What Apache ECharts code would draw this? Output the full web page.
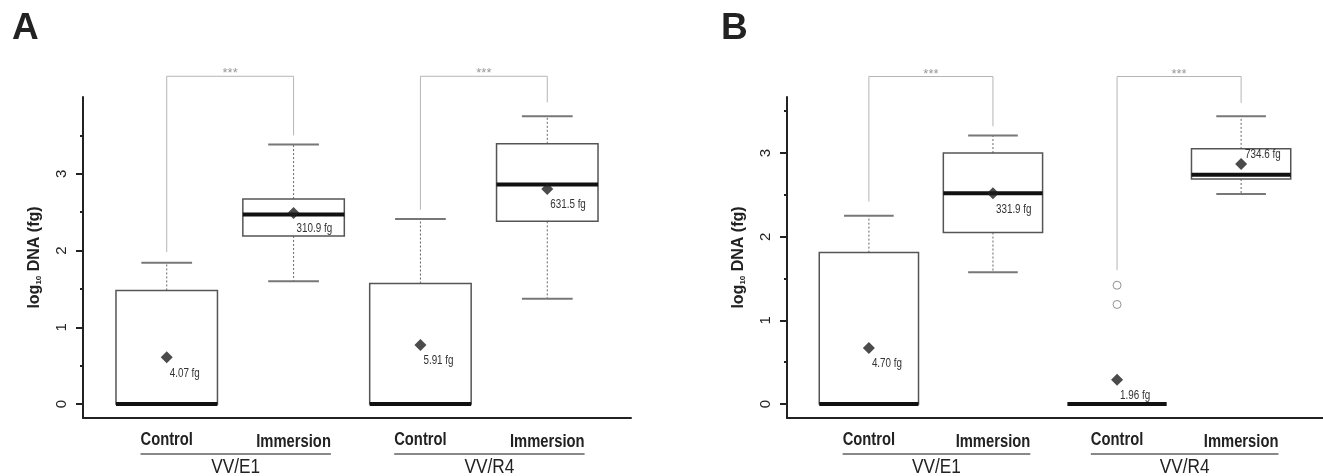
<!DOCTYPE html>
<html><head><meta charset="utf-8">
<script src="https://cdn.jsdelivr.net/npm/echarts@6/dist/echarts.min.js"></script>
<style>html,body{margin:0;padding:0;background:#fff}#c{width:1323px;height:476px}</style>
</head><body><div id="c"></div>
<script>
// ---------- data ----------
const categories = ['Control', 'Immersion', 'Control', 'Immersion'];
const groups = ['VV/E1', 'VV/R4'];
const xPositions = [1, 2, 3, 4];
const yTicks = [0, 1, 2, 3];
const yMinorTicks = [0.5, 1.5, 2.5, 3.5];

// Panel A (log10 DNA, fg)
const aLow  = [0,    1.60, 0,    1.37];
const aQ1   = [0,    2.19, 0,    2.38];
const aMed  = [0,    2.47, 0,    2.86];
const aQ3   = [1.48, 2.67, 1.57, 3.39];
const aHigh = [1.84, 3.38, 2.41, 3.75];
const aMean = [0.61, 2.49, 0.77, 2.80];
const aMeanLabel = ['4.07 fg', '310.9 fg', '5.91 fg', '631.5 fg'];
const aOutliers = [];
// [xLeft, xRight, yTop, yLeftEnd, yRightEnd]
const aBrackets = [[1, 2, 4.27, 1.98, 3.50], [3, 4, 4.27, 2.53, 3.93]];

// Panel B
const bLow  = [0,    1.575, 0,    2.51];
const bQ1   = [0,    2.05,  0,    2.69];
const bMed  = [0,    2.52,  0,    2.74];
const bQ3   = [1.81, 3.00,  0,    3.05];
const bHigh = [2.25, 3.21,  0,    3.44];
const bMean = [0.67, 2.52,  0.29, 2.87];
const bMeanLabel = ['4.70 fg', '331.9 fg', '1.96 fg', '734.6 fg'];
const bOutliers = [[3, 1.42], [3, 1.19]];
const bBrackets = [[1, 2, 3.915, 2.42, 3.32], [3, 4, 3.915, 1.60, 3.60]];

// ---------- styles ----------
const SANS = '"Liberation Sans",Arial,Helvetica,sans-serif';
const NARROW_SCALE = 0.82;
const BOX_W = 0.8;
const CAT_FONT = 'bold 18px ' + SANS;

const measureCtx = document.createElement('canvas').getContext('2d');
function textWidth(t, font) { measureCtx.font = font; return measureCtx.measureText(t).width * NARROW_SCALE; }

const panels = [
  { letter: 'A', grid: { left: 83, top: 97, width: 548, height: 321 }, yMin: -0.182, yMax: 4.0,
    low: aLow, q1: aQ1, med: aMed, q3: aQ3, high: aHigh, mean: aMean, meanLabel: aMeanLabel,
    outliers: aOutliers, brackets: aBrackets, labelAbove: [] },
  { letter: 'B', grid: { left: 787, top: 97, width: 548, height: 321 }, yMin: -0.167, yMax: 3.67,
    low: bLow, q1: bQ1, med: bMed, q3: bQ3, high: bHigh, mean: bMean, meanLabel: bMeanLabel,
    outliers: bOutliers, brackets: bBrackets, labelAbove: [3] }
];

function makeBoxRenderer(panel) {
  return function (params, api) {
    const j = params.dataIndex;
    const x = api.value(0);
    const low = api.value(1), q1 = api.value(2), med = api.value(3), q3 = api.value(4), high = api.value(5), mean = api.value(6);
    const halfW = api.size([BOX_W, 0])[0] / 2;
    const cx = api.coord([x, med])[0];
    const py = v => api.coord([x, v])[1];
    const yLow = py(low), yQ1 = py(q1), yMed = py(med), yQ3 = py(q3), yHigh = py(high), yMean = py(mean);
    const cap = halfW / 2;
    const ch = [];
    if (high > q3) {
      ch.push({ type: 'line', shape: { x1: cx, y1: yQ3, x2: cx, y2: yHigh }, style: { stroke: '#666', lineWidth: 1, lineDash: [2, 2] } });
      ch.push({ type: 'line', shape: { x1: cx - cap, y1: yHigh, x2: cx + cap, y2: yHigh }, style: { stroke: '#777', lineWidth: 2 } });
    }
    if (q1 > low) {
      ch.push({ type: 'line', shape: { x1: cx, y1: yQ1, x2: cx, y2: yLow }, style: { stroke: '#666', lineWidth: 1, lineDash: [2, 2] } });
      ch.push({ type: 'line', shape: { x1: cx - cap, y1: yLow, x2: cx + cap, y2: yLow }, style: { stroke: '#777', lineWidth: 2 } });
    }
    if (q3 > q1) {
      ch.push({ type: 'rect', shape: { x: cx - halfW, y: yQ3, width: 2 * halfW, height: yQ1 - yQ3 }, style: { fill: '#fff', stroke: '#555', lineWidth: 1.5 } });
    }
    ch.push({ type: 'line', shape: { x1: cx - halfW, y1: yMed, x2: cx + halfW, y2: yMed }, style: { stroke: '#111', lineWidth: 4 } });
    const above = panel.labelAbove.includes(j);
    ch.push({ type: 'text', x: cx + (above ? 4 : 3), y: yMean + (above ? -9 : 16), scaleX: NARROW_SCALE,
      style: { text: panel.meanLabel[j], font: '12px ' + SANS, fill: '#333', align: 'left', verticalAlign: 'middle' }, z2: 5 });
    return { type: 'group', children: ch };
  };
}

function renderBracket(params, api) {
  const p1 = api.coord([api.value(0), api.value(3)]);
  const t1 = api.coord([api.value(0), api.value(2)]);
  const t2 = api.coord([api.value(1), api.value(2)]);
  const p2 = api.coord([api.value(1), api.value(4)]);
  return { type: 'group', children: [
    { type: 'polyline', shape: { points: [p1, t1, t2, p2] }, style: { stroke: '#b5b5b5', lineWidth: 1, fill: null } },
    { type: 'text', x: (t1[0] + t2[0]) / 2, y: t1[1] + 4, style: { text: '***', fill: '#999', font: '13px ' + SANS, align: 'center', verticalAlign: 'bottom' } }
  ] };
}

function makeGroupRenderer(panel) {
  return function (params, api) {
    const xa = api.value(0), xb = api.value(1), k = api.value(2);
    const pa = api.coord([xa, panel.yMin]);
    const pb = api.coord([xb, panel.yMin]);
    const catA = categories[2 * k], catB = categories[2 * k + 1];
    const left = pa[0] - textWidth(catA, CAT_FONT) / 2;
    const right = pb[0] + textWidth(catB, CAT_FONT) / 2;
    const yLine = pa[1] + 36;
    return { type: 'group', children: [
      { type: 'text', x: pa[0], y: pa[1] + 22, scaleX: NARROW_SCALE,
        style: { text: catA, font: CAT_FONT, fill: '#222', align: 'center', verticalAlign: 'middle' } },
      { type: 'text', x: pb[0], y: pb[1] + 24, scaleX: NARROW_SCALE,
        style: { text: catB, font: CAT_FONT, fill: '#222', align: 'center', verticalAlign: 'middle' } },
      { type: 'line', shape: { x1: left, y1: yLine, x2: right, y2: yLine }, style: { stroke: '#888', lineWidth: 2 } },
      { type: 'text', x: (left + right) / 2, y: yLine + 3, scaleX: NARROW_SCALE,
        style: { text: groups[k], fill: '#222', font: '21px ' + SANS, align: 'center', verticalAlign: 'top' } }
    ] };
  };
}

const option = { animation: false, backgroundColor: '#fff', grid: [], xAxis: [], yAxis: [], series: [], graphic: [] };

panels.forEach((p, i) => {
  option.grid.push(Object.assign({ containLabel: false }, p.grid));
  option.xAxis.push({
    type: 'value', gridIndex: i, min: 0.34, max: 4.66,
    axisLine: { show: true, onZero: false, lineStyle: { color: '#222', width: 2 } },
    axisTick: { show: false }, splitLine: { show: false }, axisLabel: { show: false }
  });
  option.yAxis.push({
    type: 'value', gridIndex: i, position: 'left', min: p.yMin, max: p.yMax,
    name: '{n|log}{s|10}{n| DNA (fg)}', nameLocation: 'middle', nameRotate: 90, nameGap: 40,
    nameTextStyle: { rich: {
      n: { fontFamily: SANS, fontWeight: 'bold', fontSize: 16, color: '#222' },
      s: { fontFamily: SANS, fontWeight: 'bold', fontSize: 8, color: '#222', verticalAlign: 'bottom' } } },
    axisLine: { show: true, onZero: false, lineStyle: { color: '#222', width: 2 } },
    axisTick: { show: true, customValues: yTicks, length: 7, lineStyle: { color: '#222', width: 2 } },
    axisLabel: { customValues: yTicks, rotate: 90, margin: 14, fontFamily: SANS, fontSize: 15, color: '#222' },
    splitLine: { show: false }
  });
  option.yAxis.push({
    type: 'value', gridIndex: i, position: 'left', offset: 0, min: p.yMin, max: p.yMax,
    axisLine: { show: false },
    axisTick: { show: true, customValues: yMinorTicks, length: 3, lineStyle: { color: '#222', width: 2 } },
    axisLabel: { show: false }, splitLine: { show: false }
  });
  const yIdx = 2 * i;
  option.series.push({
    type: 'custom', xAxisIndex: i, yAxisIndex: yIdx, clip: false, z: 1,
    renderItem: renderBracket, data: p.brackets
  });
  option.series.push({
    type: 'custom', xAxisIndex: i, yAxisIndex: yIdx, clip: false, z: 2,
    renderItem: makeBoxRenderer(p),
    data: xPositions.map((x, j) => [x, p.low[j], p.q1[j], p.med[j], p.q3[j], p.high[j], p.mean[j]])
  });
  option.series.push({
    type: 'scatter', xAxisIndex: i, yAxisIndex: yIdx, z: 3, symbol: 'circle', symbolSize: 8,
    itemStyle: { color: '#fff', borderColor: '#777', borderWidth: 1 }, data: p.outliers
  });
  option.series.push({
    type: 'scatter', xAxisIndex: i, yAxisIndex: yIdx, z: 4, symbol: 'diamond', symbolSize: 12,
    itemStyle: { color: '#1e1e1e' },
    data: xPositions.map((x, j) => [x, p.mean[j]])
  });
  option.series.push({
    type: 'custom', xAxisIndex: i, yAxisIndex: yIdx, clip: false, z: 2,
    renderItem: makeGroupRenderer(p), data: groups.map((g, k) => [2 * k + 1, 2 * k + 2, k])
  });
  option.graphic.push({ type: 'text', left: i === 0 ? 12 : 721, top: 10,
    style: { text: p.letter, font: 'bold 37px ' + SANS, fill: '#222' } });
});

const chart = echarts.init(document.getElementById('c'), null, { renderer: 'canvas' });
chart.setOption(option);
</script>
</body></html>
